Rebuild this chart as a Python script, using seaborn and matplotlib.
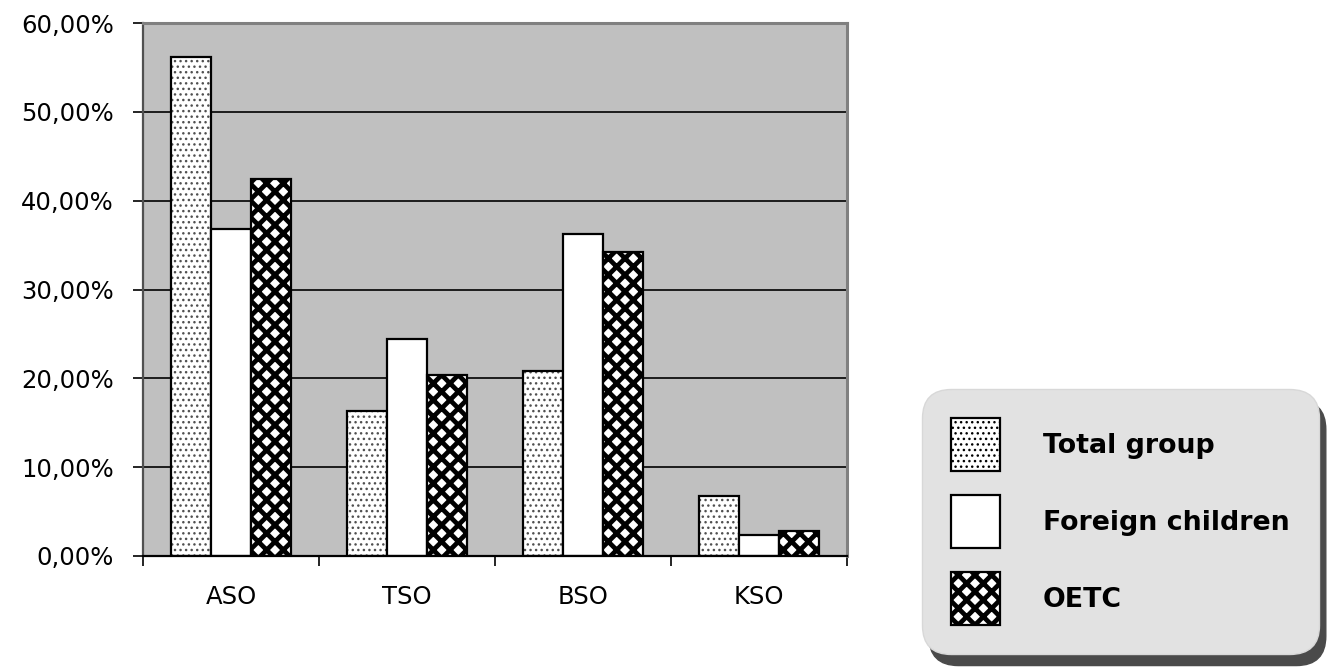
import matplotlib
matplotlib.use("Agg")
import matplotlib.pyplot as plt
import matplotlib.patches as mpatches
from matplotlib.colors import to_rgba
from matplotlib.ticker import FuncFormatter
import numpy as np
import pandas as pd
import seaborn as sns

# Share of children per school type (percent)
categories = ["ASO", "TSO", "BSO", "KSO"]
groups = ["Total group", "Foreign children", "OETC"]
total_group = [56.2, 16.3, 20.8, 6.7]
foreign_children = [36.8, 24.4, 36.3, 2.4]
oetc = [42.4, 20.4, 34.2, 2.8]
y_ticks = [0, 10, 20, 30, 40, 50, 60]

df = pd.DataFrame({
    "category": categories * 3,
    "share": total_group + foreign_children + oetc,
    "group": [g for g in groups for _ in categories],
})

sns.set_style("white")
plt.rcParams["font.family"] = ["DejaVu Sans"]
plt.rcParams["text.color"] = "black"
plt.rcParams["xtick.color"] = "black"
plt.rcParams["ytick.color"] = "black"

fig = plt.figure(figsize=(13.28, 6.69), dpi=100)
ax = fig.add_axes([143 / 1328, 1 - 556 / 669, (847 - 143) / 1328, (556 - 23) / 669])
ax.set_facecolor("#c0c0c0")

sns.barplot(data=df, x="category", y="share", hue="group", order=categories,
            hue_order=groups, palette=["white"] * 3, saturation=1,
            edgecolor="black", linewidth=1.6, width=0.68, legend=False, ax=ax)


def style_patch(p, hatch, hcolor, hlw):
    p.set_hatch(hatch)
    if hasattr(p, "set_hatchcolor"):
        p.set_hatchcolor(hcolor)
    else:
        p._hatch_color = to_rgba(hcolor)
    if hasattr(p, "set_hatch_linewidth"):
        p.set_hatch_linewidth(hlw)
    else:
        p._hatch_linewidth = hlw


hatch_styles = {
    "Total group": ("...", "#505050", 1.0),
    "Foreign children": ("", "black", 1.0),
    "OETC": ("xx", "black", 3.4),
}

for grp, cont in zip(groups, ax.containers):
    h, c, lw = hatch_styles[grp]
    for p in cont.patches:
        style_patch(p, h, c, lw)

# axes, grid and ticks
ax.set_ylim(0, 60)
ax.set_xlim(-0.5, 3.5)
ax.set_yticks(y_ticks)
ax.yaxis.set_major_formatter(FuncFormatter(lambda v, _: f"{v:.2f}%".replace(".", ",")))
ax.set_axisbelow(True)
ax.yaxis.grid(True, color="black", linewidth=1.2)
ax.xaxis.grid(False)
ax.set_xlabel("")
ax.set_ylabel("")

ax.set_xticks(range(len(categories)))
ax.set_xticklabels(categories)
ax.set_xticks(np.arange(-0.5, len(categories), 1.0), minor=True)
ax.tick_params(axis="x", which="major", length=0, pad=21, labelsize=17.5, labelcolor="black")
ax.tick_params(axis="x", which="minor", length=7, width=1.2, color="black", bottom=True)
ax.tick_params(axis="y", which="major", length=7, width=1.2, color="black",
               pad=14, labelsize=17.5, left=True, labelcolor="black")

for side in ["top", "right"]:
    ax.spines[side].set_visible(True)
    ax.spines[side].set_color("#808080")
    ax.spines[side].set_linewidth(2.2)
ax.spines["left"].set_color("#505050")
ax.spines["left"].set_linewidth(1.6)
ax.spines["bottom"].set_color("black")
ax.spines["bottom"].set_linewidth(1.6)

# legend
handles = [mpatches.Patch(facecolor="white", edgecolor="black", linewidth=1.6, label=g)
           for g in groups]

leg = fig.legend(handles=handles, loc="upper left",
                 bbox_to_anchor=(922 / 1328, 1 - 389 / 669),
                 bbox_transform=fig.transFigure, borderaxespad=0,
                 prop={"weight": "bold", "size": 19.3},
                 handlelength=1.8, handleheight=2.65, handletextpad=1.6,
                 labelspacing=0.9, borderpad=1.1, frameon=True, fancybox=True,
                 shadow={"ox": 5, "oy": -8, "color": "#4a4a4a", "alpha": 1})
for grp, hp in zip(groups, leg.legend_handles):
    h, c, lw = hatch_styles[grp]
    style_patch(hp, h, "black", lw)
for t in leg.get_texts():
    t.set_color("black")
frame = leg.get_frame()
frame.set_facecolor("#e2e2e2")
frame.set_edgecolor("#d8d8d8")
frame.set_alpha(1)
frame.set_boxstyle("round,pad=0,rounding_size=1.1")

fig.savefig("out.png", dpi=100)
